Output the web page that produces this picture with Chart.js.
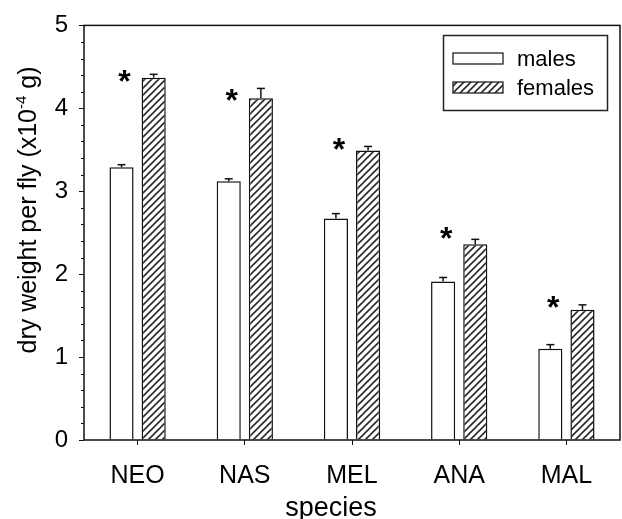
<!DOCTYPE html>
<html>
<head>
<meta charset="utf-8">
<script src="https://cdn.jsdelivr.net/npm/chart.js@4.4.1/dist/chart.umd.min.js"></script>
<style>
  html, body { margin: 0; padding: 0; background: #fff; }
  canvas { display: block; }
</style>
</head>
<body>
<canvas id="myChart" width="622" height="519"></canvas>
<script>
"use strict";

// data (units of 1e-4 g)
const species = ["NEO", "NAS", "MEL", "ANA", "MAL"];
const males = [3.29, 3.12, 2.67, 1.91, 1.10];
const maleErr = [0.03, 0.03, 0.06, 0.05, 0.05];
const females = [4.37, 4.12, 3.49, 2.36, 1.57];
const femaleErr = [0.04, 0.12, 0.05, 0.06, 0.06];
// height of the significance star above each group
const starAt = [4.39, 4.16, 3.57, 2.50, 1.66];
const yMin = 0;
const yMax = 5;
const yStep = 1;
const yMinorStep = 0.2;

const FONT = "'Liberation Sans', Arial, sans-serif";
const ctx = document.getElementById("myChart").getContext("2d");

// diagonal hatch for the females bars
function makeHatch() {
  const s = 7;
  const c = document.createElement("canvas");
  c.width = s;
  c.height = s;
  const g = c.getContext("2d");
  g.fillStyle = "#fff";
  g.fillRect(0, 0, s, s);
  g.strokeStyle = "#2a2a2a";
  g.lineWidth = 1.6;
  g.beginPath();
  g.moveTo(0, s); g.lineTo(s, 0);
  g.moveTo(-1, 1); g.lineTo(1, -1);
  g.moveTo(s - 1, s + 1); g.lineTo(s + 1, s - 1);
  g.stroke();
  return ctx.createPattern(c, "repeat");
}
const hatch = makeHatch();

function line(c, x1, y1, x2, y2) {
  c.beginPath();
  c.moveTo(x1, y1);
  c.lineTo(x2, y2);
  c.stroke();
}

// frame, minor ticks, error bars, stars, legend and axis titles
const extras = {
  id: "extras",
  afterDatasetsDraw(chart) {
    const { ctx: c, chartArea: a, scales: { y } } = chart;
    c.save();
    c.strokeStyle = "#111";
    c.lineWidth = 1.5;
    c.strokeRect(a.left, a.top, a.right - a.left, a.bottom - a.top);

    c.lineWidth = 1;
    for (let v = yMin; v <= yMax + 1e-9; v += yMinorStep) {
      const py = Math.round(y.getPixelForValue(v)) + 0.5;
      line(c, a.left - 3, py, a.left, py);
    }

    c.lineWidth = 1.5;
    [[0, maleErr], [1, femaleErr]].forEach(([di, errs]) => {
      const vals = chart.data.datasets[di].data;
      chart.getDatasetMeta(di).data.forEach((bar, i) => {
        const top = y.getPixelForValue(vals[i]);
        const end = y.getPixelForValue(vals[i] + errs[i]);
        line(c, bar.x, top, bar.x, end);
        line(c, bar.x - 4, end, bar.x + 4, end);
      });
    });

    c.fillStyle = "#000";
    c.font = "bold 32px " + FONT;
    c.textAlign = "center";
    c.textBaseline = "alphabetic";
    const m = c.measureText("*");
    const mid = (m.actualBoundingBoxAscent - m.actualBoundingBoxDescent) / 2;
    chart.getDatasetMeta(0).data.forEach((bar, i) => {
      c.fillText("*", bar.x + 3, y.getPixelForValue(starAt[i]) + mid);
    });

    // legend
    c.lineWidth = 1.5;
    c.strokeStyle = "#222";
    c.strokeRect(443.5, 35.5, 164, 75);
    c.font = "22px " + FONT;
    c.textAlign = "left";
    chart.data.datasets.forEach((ds, i) => {
      const sy = 53 + i * 29;
      c.fillStyle = ds.backgroundColor;
      c.fillRect(453, sy, 50, 11);
      c.lineWidth = 1.3;
      c.strokeRect(453, sy, 50, 11);
      c.fillStyle = "#000";
      c.fillText(ds.label, 517, sy + 13);
    });

    // x title
    c.font = "27px " + FONT;
    c.textAlign = "center";
    c.fillText("species", 331, 516);

    // y title with superscript
    const p1 = "dry weight per fly (x10";
    const sup = "-4";
    const p3 = " g)";
    c.font = "25px " + FONT;
    const w1 = c.measureText(p1).width;
    const w3 = c.measureText(p3).width;
    c.font = "15px " + FONT;
    const w2 = c.measureText(sup).width;
    const total = w1 + w2 + w3;
    c.translate(36, 210);
    c.rotate(-Math.PI / 2);
    c.textAlign = "left";
    let tx = -total / 2;
    c.font = "25px " + FONT;
    c.fillText(p1, tx, 0);
    tx += w1;
    c.font = "15px " + FONT;
    c.fillText(sup, tx, -10);
    tx += w2;
    c.font = "25px " + FONT;
    c.fillText(p3, tx, 0);
    c.restore();
  }
};

const myChart = new Chart(ctx, {
  type: "bar",
  data: {
    labels: species,
    datasets: [
      {
        label: "males",
        data: males,
        backgroundColor: "#fff",
        borderColor: "#111",
        borderWidth: 1.5
      },
      {
        label: "females",
        data: females,
        backgroundColor: hatch,
        borderColor: "#111",
        borderWidth: 1.5
      }
    ]
  },
  options: {
    responsive: false,
    animation: false,
    devicePixelRatio: 1,
    layout: { padding: { top: 25, right: 2, left: 0, bottom: 0 } },
    datasets: {
      bar: { categoryPercentage: 0.6, barPercentage: 0.75 }
    },
    plugins: {
      legend: { display: false },
      tooltip: { enabled: false }
    },
    scales: {
      x: {
        grid: {
          display: true,
          offset: false,
          drawOnChartArea: false,
          drawTicks: true,
          tickLength: 5,
          color: "#111",
          lineWidth: 1
        },
        border: { display: false },
        ticks: { color: "#000", font: { family: FONT, size: 25 }, padding: 16 },
        afterFit(scale) { scale.height = 79; }
      },
      y: {
        min: yMin,
        max: yMax,
        grid: {
          display: true,
          drawOnChartArea: false,
          drawTicks: true,
          tickLength: 5,
          color: "#111",
          lineWidth: 1
        },
        border: { display: false },
        ticks: {
          stepSize: yStep,
          color: "#000",
          font: { family: FONT, size: 24 },
          padding: 11
        },
        afterFit(scale) { scale.width = 84; }
      }
    }
  },
  plugins: [extras]
});
</script>
</body>
</html>
